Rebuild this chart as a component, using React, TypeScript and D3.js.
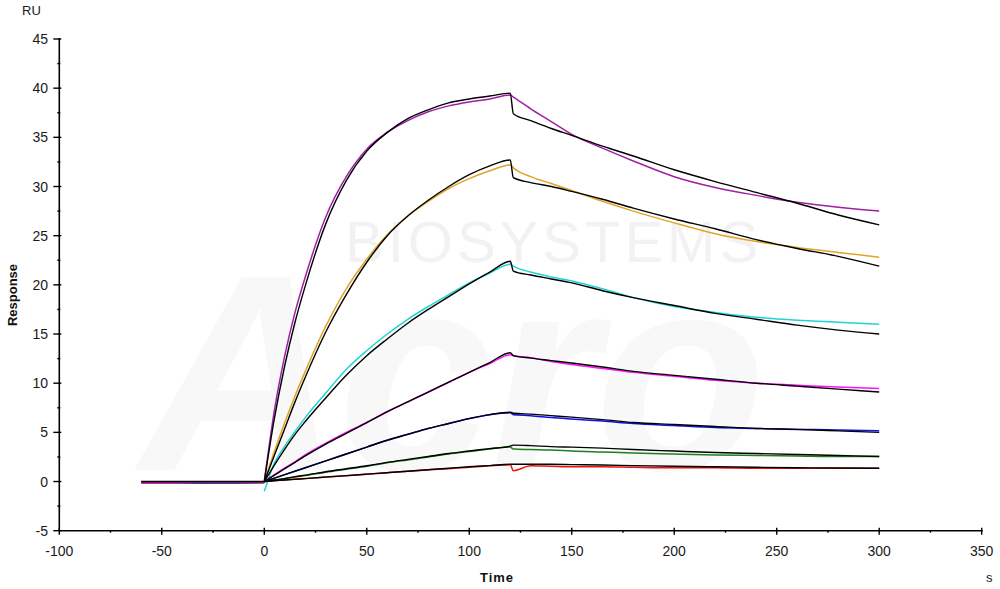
import React from "react";
import * as d3 from "d3";

// ---- time grids (s) ----
const baseT = [-60, -45, -30, -15, 0];
const assocT = [0, 5, 10, 15, 20, 30, 40, 50, 60, 70, 80, 90, 100, 110, 120];
const dissT = [121.5, 130, 140, 150, 165, 180, 200, 220, 240, 260, 280, 300];

// ---- axis ticks ----
const xMajor = [-100, -50, 0, 50, 100, 150, 200, 250, 300, 350];
const xMinor = [-75, -25, 25, 75, 125, 175, 225, 275, 325];
const yMajor = [-5, 0, 5, 10, 15, 20, 25, 30, 35, 40, 45];
const yMinor = [-2.5, 2.5, 7.5, 12.5, 17.5, 22.5, 27.5, 32.5, 37.5, 42.5];

// ---- measured responses (RU) ----
const base1 = [-0.15, -0.15, -0.1, -0.1, -0.1];
const base2 = [-0.1, -0.1, -0.1, -0.1, -0.1];
const base3 = [-0.1, -0.15, -0.15, -0.1, -0.1];
const base4 = [-0.15, -0.15, -0.1, -0.1, -0.1];
const base5 = [-0.1, -0.1, -0.15, -0.15, -0.1];
const base6 = [-0.05, -0.05, -0.05, -0.05, -0.05];
const base7 = [-0.05, -0.05, -0.05, -0.05, -0.05];
const fitBase = [0, 0, 0, 0, 0];

const data1A = [0, 7.3, 12.8, 17.2, 20.8, 26.9, 31.0, 33.8, 35.5, 36.7, 37.6, 38.2, 38.6, 38.9, 39.3];
const data1D = [39.1, 37.9, 36.6, 35.3, 33.9, 32.6, 31.0, 29.9, 29.1, 28.4, 27.9, 27.5];
const fit1A = [0, 6.5, 11.8, 16.2, 19.9, 26.2, 30.6, 33.6, 35.5, 36.9, 37.8, 38.5, 38.9, 39.2, 39.5];
const fit1D = [37.4, 36.7, 35.9, 35.2, 34.1, 33.1, 31.7, 30.5, 29.4, 28.3, 27.1, 26.1];

const data2A = [0, 3.1, 6.0, 8.7, 11.2, 15.8, 19.6, 22.6, 25.1, 27.0, 28.5, 29.8, 30.8, 31.6, 32.2];
const data2D = [31.9, 31.0, 30.3, 29.6, 28.5, 27.5, 26.3, 25.2, 24.4, 23.8, 23.3, 22.8];
const fit2A = [0, 2.7, 5.4, 8.1, 10.6, 15.2, 19.0, 22.3, 25.0, 27.0, 28.6, 30.0, 31.2, 32.1, 32.7];
const fit2D = [30.9, 30.4, 30.0, 29.5, 28.7, 27.8, 26.7, 25.7, 24.6, 23.7, 22.9, 21.9];

const data3A = [-1.0, 1.9, 3.6, 5.1, 6.5, 9.0, 11.4, 13.3, 15.0, 16.5, 17.8, 19.0, 20.2, 21.2, 22.1];
const data3D = [21.9, 21.3, 20.8, 20.4, 19.6, 18.7, 17.8, 17.2, 16.7, 16.4, 16.2, 16.0];
const fit3A = [0, 1.7, 3.3, 4.8, 6.1, 8.5, 10.8, 12.8, 14.5, 16.1, 17.5, 18.8, 20.1, 21.3, 22.4];
const fit3D = [21.4, 21.0, 20.6, 20.2, 19.4, 18.7, 17.9, 17.1, 16.5, 15.9, 15.4, 15.0];

const data4A = [0, 0.7, 1.4, 2.0, 2.7, 3.9, 5.0, 6.0, 7.1, 8.1, 9.1, 10.1, 11.1, 12.0, 12.9];
const data4D = [12.8, 12.6, 12.2, 11.9, 11.5, 11.1, 10.7, 10.3, 10.0, 9.8, 9.6, 9.45];
const fit4A = [0, 0.65, 1.3, 1.95, 2.6, 3.8, 4.9, 6.0, 7.1, 8.1, 9.1, 10.1, 11.1, 12.1, 13.1];
const fit4D = [12.8, 12.55, 12.3, 12.05, 11.65, 11.2, 10.8, 10.4, 10.0, 9.7, 9.4, 9.1];

const data5A = [0, 0.35, 0.7, 1.05, 1.4, 2.1, 2.8, 3.5, 4.2, 4.8, 5.4, 5.9, 6.4, 6.8, 7.0];
const data5D = [6.8, 6.7, 6.5, 6.35, 6.15, 5.9, 5.7, 5.5, 5.4, 5.3, 5.25, 5.15];
const fit5A = [0, 0.35, 0.7, 1.05, 1.4, 2.1, 2.8, 3.5, 4.2, 4.8, 5.4, 5.9, 6.4, 6.8, 7.05];
const fit5D = [6.95, 6.85, 6.7, 6.55, 6.3, 6.0, 5.8, 5.6, 5.4, 5.3, 5.15, 5.0];

const data6A = [0, 0.15, 0.3, 0.45, 0.6, 0.95, 1.25, 1.55, 1.9, 2.2, 2.5, 2.8, 3.05, 3.3, 3.5];
const data6D = [3.3, 3.25, 3.2, 3.1, 3.0, 2.9, 2.8, 2.7, 2.65, 2.6, 2.55, 2.55];
const fit6A = [0, 0.15, 0.3, 0.5, 0.65, 1.0, 1.3, 1.6, 1.95, 2.25, 2.55, 2.85, 3.1, 3.35, 3.6];
const fit6D = [3.7, 3.65, 3.55, 3.5, 3.4, 3.25, 3.1, 2.95, 2.85, 2.75, 2.65, 2.55];

const data7A = [0, 0.1, 0.15, 0.25, 0.3, 0.45, 0.6, 0.75, 0.9, 1.05, 1.2, 1.3, 1.45, 1.6, 1.7];
const data7D = [1.1, 1.6, 1.55, 1.5, 1.5, 1.45, 1.4, 1.4, 1.35, 1.35, 1.35, 1.35];
const fit7A = [0, 0.08, 0.15, 0.22, 0.3, 0.45, 0.6, 0.75, 0.9, 1.05, 1.2, 1.35, 1.5, 1.62, 1.75];
const fit7D = [1.75, 1.75, 1.75, 1.72, 1.68, 1.62, 1.55, 1.5, 1.45, 1.4, 1.37, 1.35];

const seriesColors = ["#a21ea8", "#e0a526", "#22d3d3", "#ff10ff", "#1010ee", "#1f7f1f", "#ee1111"];
const dataBase = [base1, base2, base3, base4, base5, base6, base7];
const dataAssoc = [data1A, data2A, data3A, data4A, data5A, data6A, data7A];
const dataDiss = [data1D, data2D, data3D, data4D, data5D, data6D, data7D];
const fitAssoc = [fit1A, fit2A, fit3A, fit4A, fit5A, fit6A, fit7A];
const fitDiss = [fit1D, fit2D, fit3D, fit4D, fit5D, fit6D, fit7D];

const W = 1000;
const H = 589;
const FONT = "Arial, 'Liberation Sans', sans-serif";

export default function App() {
  const x = d3.scaleLinear().domain([-100, 350]).range([59.3, 981.7]);
  const y = d3.scaleLinear().domain([-5, 45]).range([530.7, 39]);

  const line = d3
    .line<[number, number]>()
    .x((d) => x(d[0]))
    .y((d) => y(d[1]))
    .curve(d3.curveMonotoneX);
  const straight = d3
    .line<[number, number]>()
    .x((d) => x(d[0]))
    .y((d) => y(d[1]));

  const zip = (ts: number[], vs: number[]) => ts.map((t, i) => [t, vs[i]] as [number, number]);

  const axX = 59.3;
  const axY = 530.7;

  return (
    <svg
      width={W}
      height={H}
      style={{ position: "absolute", left: 0, top: 0, background: "#fff" }}
      fontFamily={FONT}
    >
      <rect x={0} y={0} width={W} height={H} fill="#fff" />
      {/* faint watermark */}
      <text
        x={140}
        y={470}
        fontSize={280}
        fontWeight="bold"
        fontStyle="italic"
        letterSpacing={-4}
        fill="#f8f8f8"
        fontFamily="Arial, sans-serif"
      >
        Acro
      </text>
      <text x={345} y={262} fontSize={58} fill="#f2f2f2" letterSpacing={4} fontFamily="Arial, sans-serif">
        BIOSYSTEMS
      </text>

      {/* baselines */}
      {dataBase.map((b, i) => (
        <path key={"b" + i} d={straight(zip(baseT, b)) || ""} fill="none" stroke={seriesColors[i]} strokeWidth={1.6} />
      ))}
      <path d={straight(zip(baseT, fitBase)) || ""} fill="none" stroke="#000" strokeWidth={1.4} />

      {/* measured curves */}
      {dataAssoc.map((a, i) => (
        <path
          key={"d" + i}
          d={line(zip(assocT, a).concat(zip(dissT, dataDiss[i]))) || ""}
          fill="none"
          stroke={seriesColors[i]}
          strokeWidth={1.5}
        />
      ))}
      {/* fitted curves */}
      {fitAssoc.map((a, i) => (
        <path
          key={"f" + i}
          d={line(zip(assocT, a).concat(zip(dissT, fitDiss[i]))) || ""}
          fill="none"
          stroke="#000"
          strokeWidth={1.4}
        />
      ))}

      {/* axes */}
      <g stroke="#000" strokeWidth={1.6}>
        <line x1={axX} y1={y(45) - 1} x2={axX} y2={axY} />
        <line x1={axX} y1={axY} x2={x(350) + 1} y2={axY} />
      </g>
      <g stroke="#000" strokeWidth={1.4}>
        {yMajor.map((v) => (
          <line key={"ym" + v} x1={axX - 6} x2={axX + 2} y1={y(v)} y2={y(v)} />
        ))}
        {yMinor.map((v) => (
          <line key={"yn" + v} x1={axX - 2} x2={axX + 1} y1={y(v)} y2={y(v)} />
        ))}
        {xMajor.map((v) => (
          <line key={"xm" + v} x1={x(v)} x2={x(v)} y1={axY - 3} y2={axY + 4} />
        ))}
        {xMinor.map((v) => (
          <line key={"xn" + v} x1={x(v)} x2={x(v)} y1={axY} y2={axY + 2} />
        ))}
      </g>
      <g fontSize={14} fill="#1a1a1a">
        {yMajor.map((v) => (
          <text key={"yl" + v} x={48} y={y(v) + 5} textAnchor="end">
            {v}
          </text>
        ))}
        {xMajor.map((v) => (
          <text key={"xl" + v} x={x(v)} y={556} textAnchor="middle">
            {v}
          </text>
        ))}
      </g>
      <text x={22} y={15} fontSize={13} fill="#1a1a1a">
        RU
      </text>
      <text x={986} y={582} fontSize={13} fill="#1a1a1a">
        s
      </text>
      <text x={497} y={582} fontSize={13} fontWeight="bold" textAnchor="middle" letterSpacing={1} fill="#111">
        Time
      </text>
      <text
        transform="translate(17,295) rotate(-90)"
        fontSize={13}
        fontWeight="bold"
        textAnchor="middle"
        fill="#111"
      >
        Response
      </text>
    </svg>
  );
}
